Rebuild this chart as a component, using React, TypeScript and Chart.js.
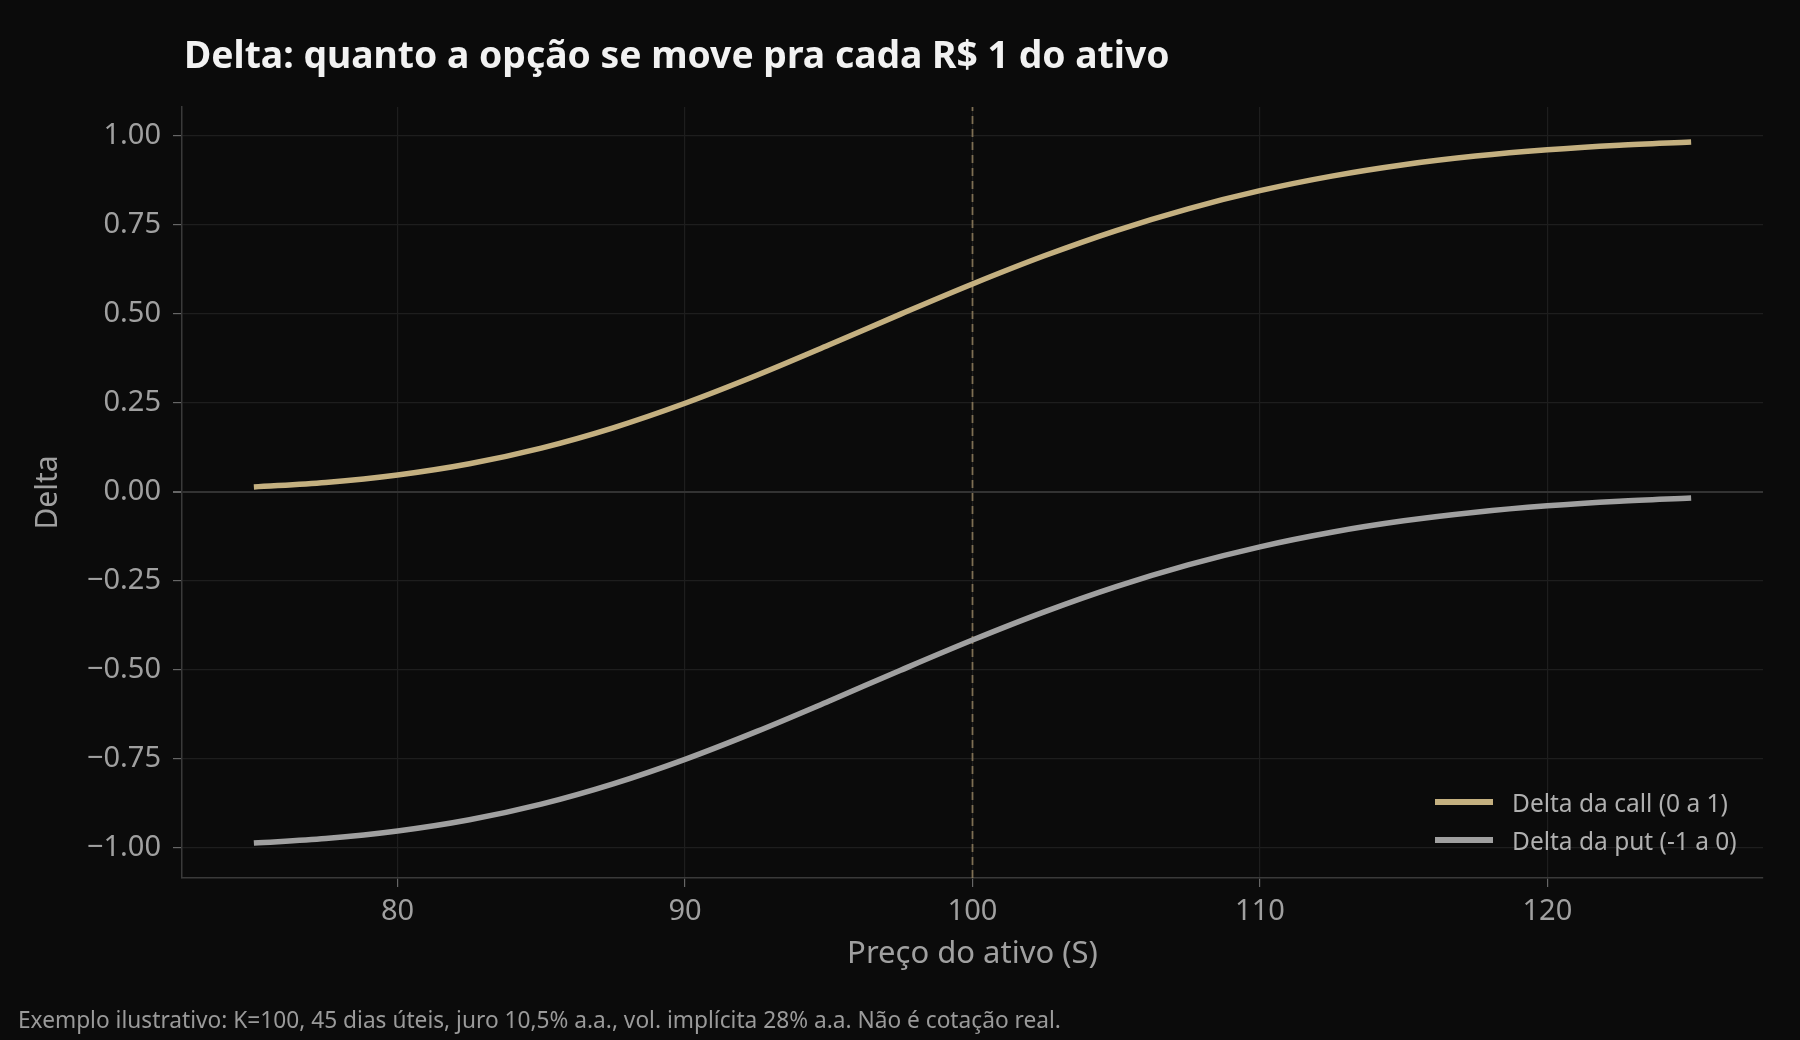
import { useEffect, useRef } from "react"
import { Chart, registerables } from "chart.js"

Chart.register(...registerables)

// Preço do ativo (S) e deltas
const PRICES = [75, 77.5, 80, 82.5, 85, 87.5, 90, 92.5, 95, 97.5, 100, 102.5, 105, 107.5, 110, 112.5, 115, 117.5, 120, 122.5, 125]
const CALL_DELTA = [0.0132, 0.0259, 0.0469, 0.0784, 0.1223, 0.1792, 0.2481, 0.3267, 0.4115, 0.4984, 0.5831, 0.6622, 0.7331, 0.7942, 0.845, 0.8859, 0.9179, 0.9421, 0.96, 0.9729, 0.9819]
const PUT_DELTA = [-0.9868, -0.9741, -0.9531, -0.9216, -0.8777, -0.8208, -0.7519, -0.6733, -0.5885, -0.5016, -0.4169, -0.3378, -0.2669, -0.2058, -0.155, -0.1141, -0.0821, -0.0579, -0.04, -0.0271, -0.0181]
const STRIKE = 100
const X_TICKS = [80, 90, 100, 110, 120]
const Y_TICKS = [-1, -0.75, -0.5, -0.25, 0, 0.25, 0.5, 0.75, 1]
const X_MIN = 72.5
const X_MAX = 127.5
const Y_MIN = -1.085
const Y_MAX = 1.08

const FONT = "'Noto Sans', 'Open Sans', sans-serif"
const CALL_COLOR = "#c4b080"
const PUT_COLOR = "#a0a0a0"

export default function App() {
  const canvasRef = useRef<HTMLCanvasElement>(null)

  useEffect(() => {
    document.body.style.margin = "0"
    document.body.style.background = "#0b0b0b"
    if (!canvasRef.current) return
    Chart.getChart(canvasRef.current)?.destroy()

    const chart = new Chart(canvasRef.current, {
      type: "line",
      data: {
        datasets: [
          {
            label: "Delta da call (0 a 1)",
            data: PRICES.map((x, i) => ({ x, y: CALL_DELTA[i] })),
            borderColor: CALL_COLOR,
            borderWidth: 5.5,
            pointRadius: 0,
            cubicInterpolationMode: "monotone",
            order: 1,
          },
          {
            label: "Delta da put (-1 a 0)",
            data: PRICES.map((x, i) => ({ x, y: PUT_DELTA[i] })),
            borderColor: PUT_COLOR,
            borderWidth: 5.5,
            pointRadius: 0,
            cubicInterpolationMode: "monotone",
            order: 1,
          },
          {
            label: "strike",
            data: [{ x: STRIKE, y: Y_MIN }, { x: STRIKE, y: Y_MAX }],
            borderColor: "rgba(190,165,120,0.6)",
            borderWidth: 1.8,
            borderDash: [8, 5],
            pointRadius: 0,
            order: 2,
          },
        ],
      },
      options: {
        responsive: false,
        animation: false,
        layout: { padding: { top: 107, right: 37, bottom: 0, left: 0 } },
        plugins: {
          legend: { display: false },
          tooltip: { enabled: false },
        },
        scales: {
          x: {
            type: "linear",
            min: X_MIN,
            max: X_MAX,
            afterBuildTicks: s => { s.ticks = X_TICKS.map(value => ({ value })) },
            afterFit: s => { s.height = 162 },
            ticks: {
              color: "#a0a0a0",
              font: { family: FONT, size: 29 },
              padding: 7,
              callback: v => String(v),
            },
            grid: { color: "#1e1e1e", tickColor: "#666", tickLength: 9, lineWidth: 1.2 },
            border: { color: "#3a3a3a", width: 1.5 },
            title: {
              display: true,
              text: "Preço do ativo (S)",
              color: "#a0a0a0",
              font: { family: FONT, size: 31 },
              padding: { top: 0, bottom: 67 },
            },
          },
          y: {
            min: Y_MIN,
            max: Y_MAX,
            afterBuildTicks: s => { s.ticks = Y_TICKS.map(value => ({ value })) },
            afterFit: s => { s.width = 182 },
            ticks: {
              color: "#a0a0a0",
              font: { family: FONT, size: 29 },
              padding: 12,
              callback: v => Number(v).toFixed(2).replace("-", "\u2212"),
            },
            grid: {
              color: c => (c.tick && c.tick.value === 0 ? "#333333" : "#1e1e1e"),
              lineWidth: c => (c.tick && c.tick.value === 0 ? 2 : 1.2),
              tickColor: "#666",
              tickLength: 9,
            },
            border: { color: "#3a3a3a", width: 1.5 },
            title: {
              display: true,
              text: "Delta",
              color: "#a0a0a0",
              font: { family: FONT, size: 30 },
              padding: { top: 30, bottom: 0 },
            },
          },
        },
      },
    })

    return () => { chart.destroy() }
  }, [])

  const legendRow = (color: string, text: string, top: number) => (
    <div style={{ position: "absolute", left: 1435, top, display: "flex", alignItems: "center", height: 30 }}>
      <div style={{ width: 58, height: 5.5, background: color }} />
      <span style={{ marginLeft: 19, fontFamily: FONT, fontSize: 24.5, color: "#b0b0b0", whiteSpace: "nowrap" }}>{text}</span>
    </div>
  )

  return (
    <div style={{ position: "relative", width: 1800, height: 1040, background: "#0b0b0b", overflow: "hidden" }}>
      <canvas ref={canvasRef} width={1800} height={1040} style={{ position: "absolute", left: 0, top: 0 }} />
      <div style={{ position: "absolute", left: 184, top: 31, fontFamily: FONT, fontWeight: 700, fontSize: 37.3, lineHeight: "46px", color: "#f2f2f2", whiteSpace: "nowrap" }}>
        Delta: quanto a opção se move pra cada R$ 1 do ativo
      </div>
      {legendRow(CALL_COLOR, "Delta da call (0 a 1)", 787)}
      {legendRow(PUT_COLOR, "Delta da put (-1 a 0)", 825)}
      <div style={{ position: "absolute", left: 18, top: 1006, fontFamily: FONT, fontSize: 22.7, lineHeight: "28px", color: "#9a9a9a", whiteSpace: "nowrap" }}>
        Exemplo ilustrativo: K=100, 45 dias úteis, juro 10,5% a.a., vol. implícita 28% a.a. Não é cotação real.
      </div>
    </div>
  )
}
